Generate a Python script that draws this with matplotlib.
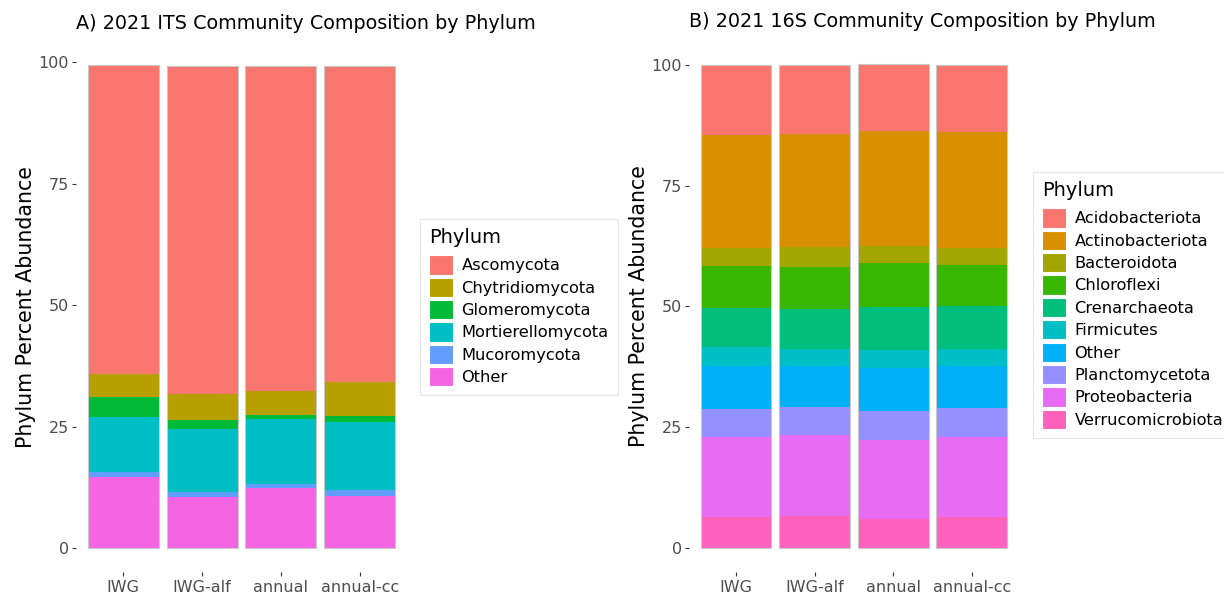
import matplotlib
matplotlib.use("Agg")
import matplotlib.pyplot as plt
from matplotlib.patches import Patch
import numpy as np

plt.rcParams['font.family'] = ['DejaVu Sans']

samples = ["IWG", "IWG-alf", "annual", "annual-cc"]

# ITS fungal phyla (percent abundance per treatment)
its_phyla = ["Ascomycota", "Chytridiomycota", "Glomeromycota",
             "Mortierellomycota", "Mucoromycota", "Other"]
its_colors = ["#F8766D", "#B79F00", "#00BA38", "#00BFC4", "#619CFF", "#F564E3"]
ascomycota = [63.4, 67.4, 66.9, 65.0]
chytridiomycota = [4.8, 5.4, 4.9, 7.1]
glomeromycota = [4.1, 1.9, 0.9, 1.2]
mortierellomycota = [11.3, 12.9, 13.3, 13.9]
mucoromycota = [1.0, 1.0, 0.9, 1.3]
its_other = [14.7, 10.6, 12.3, 10.7]

# 16S bacterial/archaeal phyla (percent abundance per treatment)
s16_phyla = ["Acidobacteriota", "Actinobacteriota", "Bacteroidota", "Chloroflexi",
             "Crenarchaeota", "Firmicutes", "Other", "Planctomycetota",
             "Proteobacteria", "Verrucomicrobiota"]
s16_colors = ["#F8766D", "#D89000", "#A3A500", "#39B600", "#00BF7D",
              "#00BFC4", "#00B0F6", "#9590FF", "#E76BF3", "#FF62BC"]
acidobacteriota = [14.4, 14.3, 13.8, 13.9]
actinobacteriota = [23.4, 23.4, 23.8, 23.9]
bacteroidota = [3.9, 4.2, 3.7, 3.7]
chloroflexi = [8.7, 8.6, 9.1, 8.5]
crenarchaeota = [8.0, 8.3, 8.9, 8.7]
firmicutes = [4.0, 3.6, 3.7, 3.7]
s16_other = [8.8, 8.4, 8.8, 8.7]
planctomycetota = [5.8, 5.9, 6.0, 6.0]
proteobacteria = [16.5, 16.6, 16.4, 16.5]
verrucomicrobiota = [6.5, 6.7, 6.0, 6.4]

its_values = [ascomycota, chytridiomycota, glomeromycota,
              mortierellomycota, mucoromycota, its_other]
s16_values = [acidobacteriota, actinobacteriota, bacteroidota, chloroflexi,
              crenarchaeota, firmicutes, s16_other, planctomycetota,
              proteobacteria, verrucomicrobiota]

W, H = 1224, 594
fig = plt.figure(figsize=(W / 100, H / 100), dpi=100)


def px_axes(x0, x1, ytop, ybot):
    return fig.add_axes([x0 / W, (H - ybot) / H, (x1 - x0) / W, (ybot - ytop) / H])


def stacked(ax, values, colors, title):
    x = np.arange(1, len(samples) + 1)
    # the first level sits on top of the stack: build upward from the last one
    bottom = np.zeros(len(samples))
    for vals, col in zip(values[::-1], colors[::-1]):
        v = np.asarray(vals, dtype=float)
        ax.bar(x, v, bottom=bottom, width=0.9, color=col, linewidth=0)
        bottom += v
    ax.bar(x, bottom, width=0.9, facecolor="none", edgecolor="#C8C8C8", linewidth=0.8)
    top = bottom.max()
    ax.set_xlim(0.4, len(samples) + 0.6)
    ax.set_ylim(-0.05 * top, top * 1.05)
    ax.set_yticks([0, 25, 50, 75, 100])
    ax.set_xticks(x)
    ax.set_xticklabels(samples)
    for s in ax.spines.values():
        s.set_visible(False)
    ax.tick_params(axis="both", length=3, width=0.8, color="#333333",
                   labelcolor="#4D4D4D", labelsize=11.5, pad=2)
    ax.tick_params(axis="x", pad=2.5)
    ax.set_ylabel("Phylum Percent Abundance", fontsize=14.8, color="black", labelpad=2)
    ax.set_title(title, loc="left", fontsize=13.8, pad=9)
    return [Patch(facecolor=c, edgecolor="white", linewidth=0.8) for c in colors]


ax1 = px_axes(76, 407, 41.2, 572.4)
h1 = stacked(ax1, its_values, its_colors,
             "A) 2021 ITS Community Composition by Phylum")
ax2 = px_axes(689, 1019, 39.8, 572.2)
h2 = stacked(ax2, s16_values, s16_colors,
             "B) 2021 16S Community Composition by Phylum")

leg_kw = dict(frameon=True, fancybox=False, fontsize=11.7, title="Phylum",
              title_fontsize=14, handlelength=1.45, handleheight=1.45,
              handletextpad=0.55, labelspacing=0.19, borderpad=0.55,
              borderaxespad=0, alignment="left")
leg1 = fig.legend(h1, its_phyla, loc="upper left",
                  bbox_to_anchor=(420 / W, (H - 219) / H), **leg_kw)
leg2 = fig.legend(h2, s16_phyla, loc="upper left",
                  bbox_to_anchor=(1033 / W, (H - 172) / H), **leg_kw)
for lg in (leg1, leg2):
    fr = lg.get_frame()
    fr.set_edgecolor("#E0E0E0")
    fr.set_linewidth(0.8)
    # extra room between the legend title and its keys
    lg._legend_box.sep = 6

fig.savefig("out.png", dpi=100, facecolor="white")
